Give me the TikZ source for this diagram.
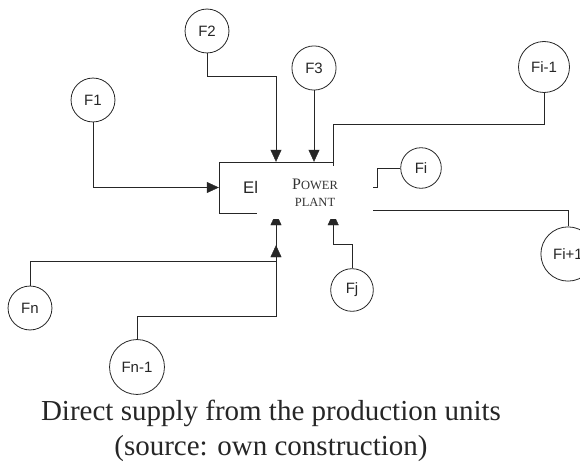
\documentclass[tikz,border=0pt]{standalone}
\usepackage{fontspec}
\setmainfont{Liberation Serif}
\setsansfont{Liberation Sans}
\usetikzlibrary{arrows.meta,positioning,backgrounds}

\begin{document}
\begin{tikzpicture}[
    x=1pt, y=-1pt,
    >={Triangle[length=12pt,width=11pt]},
    line width=0.8pt,
    wire/.style={draw=black!85},
    src/.style={circle, draw=black!85, inner sep=8.5pt, minimum size=38pt,
      font=\sffamily\fontsize{15}{18}\selectfont, text=black!85},
    unit/.style={draw=black!85, minimum width=114pt, minimum height=51pt},
    plant/.style={fill=white, inner sep=0pt, minimum width=116pt,
      minimum height=53pt, align=center, text=black!80,
      font=\fontsize{12.5}{17}\selectfont},
    caption/.style={align=center, text=black!85,
      font=\fontsize{29}{35}\selectfont},
  ]
  \useasboundingbox (0,0) rectangle (580,468);

  % Power plant
  \node[plant] (plant) at (315,192.5) {{\fontsize{16}{17}\selectfont P}OWER\\PLANT};

  % Production units
  \node[src] (f1) at (93,100) {F1};
  \node[src] (f2) at (207,31) {F2};
  \node[src] (f3) at (314,68) {F3};
  \node[src] (fim) at (544,67) {Fi-1};
  \node[src] (fi) at (421,168) {Fi};
  \node[src] (fip) at (568,254) {Fi+1};
  \node[src] (fj) at (352,290) {Fj};
  \node[src] (fn) at (30,308) {Fn};
  \node[src] (fnm) at (137,367) {Fn-1};

  \begin{scope}[on background layer]
    \node[unit] (el) at (276,187.5) {};
    \node[anchor=base west, inner sep=0pt, text=black!85,
      font=\sffamily\fontsize{16.8}{18}\selectfont] (eltext) at (243,193) {El};

    % Edges
    \draw[wire, ->] (f1) |- (el.west);
    \draw[wire, ->] (f2.south) -- ++(0,23) -| (el.north);
    \draw[wire, ->] (f3) -- (f3 |- el.north);
    \draw[wire] (fim.south) -- ++(0,31.5) -| (el.north east);
    \draw[wire] (fi.west) -- ++(-23,0) |- ([yshift=5.5pt]plant.east);
    \draw[wire] (fip.north) |- ([yshift=-17.5pt]plant.east);
    \draw[wire, ->] (fj.north) -- ++(0,-24) -| (el.south east);
    \draw[wire, ->] (fnm.north) -- ++(0,-23) -| (el.south);
    \draw[wire, ->] (fn.north) -- ++(0,-24) -| ([yshift=-32pt]el.south);
  \end{scope}

  % Caption
  \node[caption] (cap) at (271,431) {Direct supply from the production units\\(source: own construction)};
\end{tikzpicture}
\end{document}
